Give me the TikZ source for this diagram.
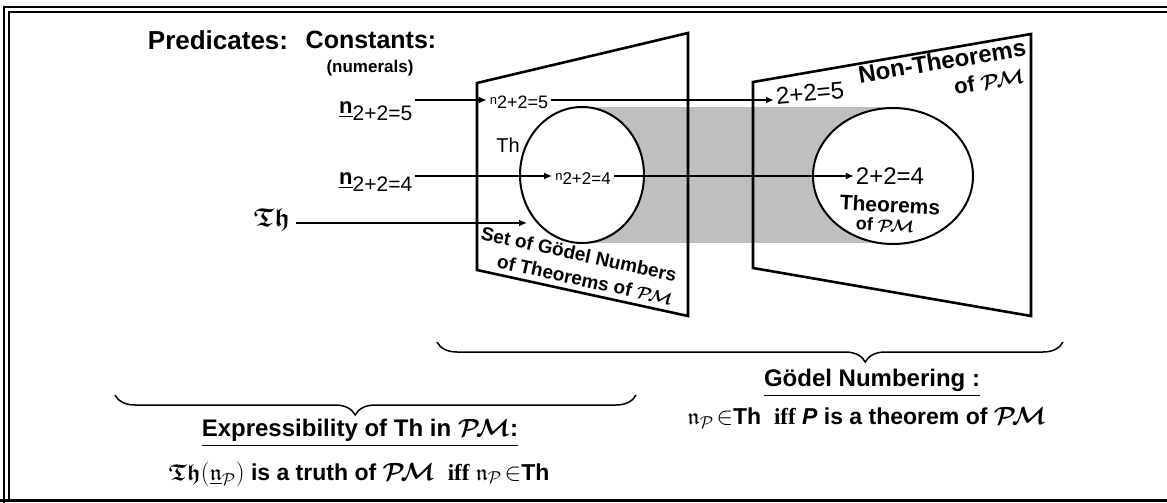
\documentclass[tikz,border=0pt]{standalone}
\usepackage{amsmath,amssymb,bm}
\usepackage{fontspec}
\setmainfont{Liberation Sans}
\newfontfamily\serifbf{Liberation Serif}
\usetikzlibrary{arrows.meta,shapes.geometric,decorations.pathreplacing}
\newcommand{\fsz}[1]{\fontsize{#1}{#1}\selectfont}
\newcommand{\PM}{\ensuremath{\bm{\mathcal{P}\!\mathcal{M}}}}
\newcommand{\Thg}{\ensuremath{\bm{\mathfrak{Th}}}}
\newcommand{\gn}{\ensuremath{\mathfrak{n}}}

\begin{document}
\begin{tikzpicture}[
  x=1pt, y=-1pt,
  >={Latex[length=8pt,width=7pt]},
  txt/.style={inner sep=2pt, font=\bfseries\fsz{24}},
  plain/.style={inner sep=2pt, font=\fsz{24}},
  clbl/.style={inner sep=3pt, anchor=west},
  panel/.style={line width=2.6pt, line join=miter},
  setring/.style={draw, ellipse, line width=2pt, fill=white, inner sep=0pt},
  arr/.style={->, line width=1.5pt},
  brc/.style={decorate, decoration={brace, amplitude=20pt}, line width=1.5pt}
]
\useasboundingbox (0,0) rectangle (1167,503);

\draw[line width=2.5pt] (4,503) -- (4,7) -- (1167,7);
\draw[line width=2pt] (9,500) -- (9,12) -- (1167,12);
\draw[line width=3pt] (0,500) -- (1167,500);

\fill[gray!50] (582,107) rectangle (893,243);
\node[setring, minimum width=124pt, minimum height=136pt] (thset) at (582,175) {};
\node[setring, minimum width=160pt, minimum height=136pt] (thm) at (893,176) {};

\coordinate (L1) at (477,83); \coordinate (L2) at (688,33);
\coordinate (L3) at (688,316); \coordinate (L4) at (477,270);
\coordinate (R1) at (753,82); \coordinate (R2) at (1031,34);
\coordinate (R3) at (1031,316); \coordinate (R4) at (753,268);
\draw[panel] (L1) -- (L2) -- (L3) -- (L4) -- cycle;
\draw[panel] (R1) -- (R2) -- (R3) -- (R4) -- cycle;

\node[txt, font=\bfseries\fsz{26}] (pred) at (218,40) {Predicates:};
\node[txt, font=\bfseries\fsz{25}] (const) at (371,40) {Constants:};
\node[txt, font=\bfseries\fsz{17}] (numer) at (370,68) {(numerals)};

\node[clbl] (c5) at (336,111) {\fsz{22}\underline{\textbf{n}}\raisebox{-7pt}{\fsz{21}2+2=5}};
\node[clbl] (c4) at (336,182) {\fsz{22}\underline{\textbf{n}}\raisebox{-7pt}{\fsz{21}2+2=4}};
\node[inner sep=6pt, font=\fsz{26}] (pth) at (272,220) {\Thg};

\node[inner sep=3pt] (g5) at (519,102) {\raisebox{4pt}{\fsz{13}n}\fsz{18}2+2=5};
\node[inner sep=3pt] (g4) at (583,179) {\raisebox{4pt}{\fsz{13}n}\fsz{17}2+2=4};
\node[plain, font=\fsz{20}] (thl) at (508,145) {Th};

\node[plain, rotate=5] (s5) at (810,93) {2+2=5};
\node[plain] (s4) at (890,176) {2+2=4};

\node[inner sep=0pt, font=\bfseries\fsz{19}, rotate=-12.3] (sg1) at (579,254) {Set of Gödel Numbers};
\node[inner sep=0pt, font=\bfseries\fsz{19}, rotate=-12.3] (sg2) at (585,280) {of Theorems of \PM};
\node[txt, rotate=9.3] (nt1) at (942,61) {Non-Theorems};
\node[txt, font=\bfseries\fsz{22}, rotate=9.3] (nt2) at (989,81) {of \PM};
\node[txt, font=\bfseries\fsz{21}, rotate=-3] (th1) at (890,205) {Theorems};
\node[txt, font=\bfseries\fsz{18}, rotate=-3] (th2) at (885,225) {of \PM};

\coordinate (y5) at (0,100); \coordinate (y4) at (0,176); \coordinate (y3) at (0,223);
\draw[arr] (c5.east |- y5) -- (g5.west |- y5); \draw[arr] (g5.east |- y5) -- (s5.west |- y5);
\draw[arr] (c4.east |- y4) -- (g4.west |- y4); \draw[arr] (g4.east |- y4) -- (s4.west |- y4);
\draw[arr] (pth.east |- y3) -- ([xshift=8pt]thset.west |- y3);

\coordinate (b1) at (1063,342); \coordinate (b2) at (437,342);
\coordinate (b3) at (636,395); \coordinate (b4) at (115,395);
\draw[brc, decoration={aspect=0.316}] (b1) -- (b2);
\draw[brc, decoration={aspect=0.539}] (b3) -- (b4);

\node[txt] (gnum) at (872,383) {\underline{Gödel Numbering :}};
\node[txt, font=\bfseries\fsz{23}] (gdef) at (867,418) {$\gn_{\mathcal{P}}\!\in$Th\ \ {\serifbf iff}\ \textit{P}\ is a theorem of \PM};
\node[txt] (expr) at (360,433) {\underline{Expressibility of Th in \PM:}};
\node[txt, font=\bfseries\fsz{23}] (edef) at (359,474) {\Thg$(\underline{\gn}_{\mathcal{P}})$\ is a truth of \PM\ \ {\serifbf iff}\ $\gn_{\mathcal{P}}\!\in$Th};
\end{tikzpicture}
\end{document}
